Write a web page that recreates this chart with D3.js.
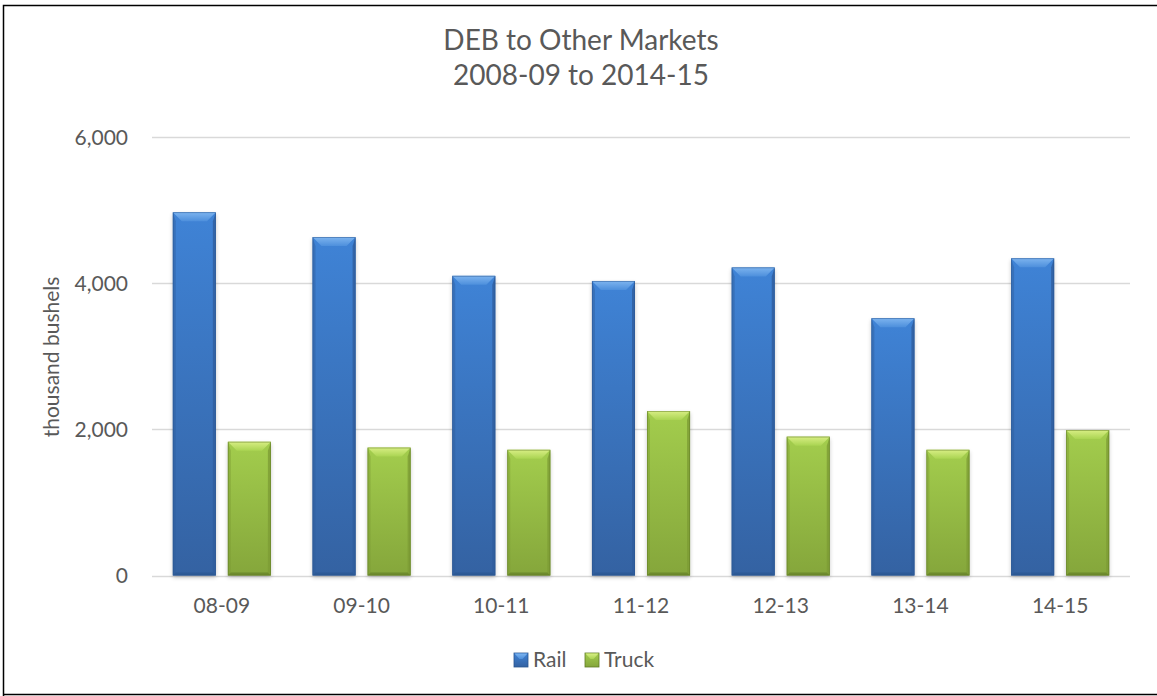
<!DOCTYPE html>
<html>
<head>
<meta charset="utf-8">
<script src="https://cdn.jsdelivr.net/npm/d3@7"></script>
<style>
  html, body { margin: 0; padding: 0; background: #fff; }
  svg { display: block; font-family: Lato, "Open Sans", sans-serif; }
</style>
</head>
<body>
<svg id="chart" width="1157" height="696"></svg>
<script>
const categories = ["08-09", "09-10", "10-11", "11-12", "12-13", "13-14", "14-15"];
const seriesNames = ["Rail", "Truck"];
const railValues = [4970, 4630, 4100, 4030, 4215, 3520, 4340];
const truckValues = [1830, 1750, 1720, 2250, 1900, 1720, 1990];
const yTicks = [0, 2000, 4000, 6000];
const titleLines = ["DEB to Other Markets", "2008-09 to 2014-15"];
const yAxisTitle = "thousand bushels";

const seriesValues = { Rail: railValues, Truck: truckValues };
const palette = {
  Rail:  { top: "#3f83d6", bottom: "#3462a2", bevelA: "#7db4ef", bevelB: "#4d8fdc", side: "#2f5d9c", edge: "#2a5590" },
  Truck: { top: "#a3cd4d", bottom: "#85a63b", bevelA: "#d8ee84", bevelB: "#aad452", side: "#7d9c34", edge: "#5f7a24" }
};

const svg = d3.select("#chart");
const W = 1157, H = 696;
const plot = { left: 152, right: 1130, top: 137, bottom: 575.5 };

// border
svg.append("path")
  .attr("d", `M3.5,${H + 2} L3.5,5.5 L${W + 2},5.5`)
  .attr("fill", "none").attr("stroke", "#000").attr("stroke-width", 1.5);
svg.append("line").attr("x1", 3.5).attr("x2", W + 2).attr("y1", 694.5).attr("y2", 694.5)
  .attr("stroke", "#000").attr("stroke-width", 1.5);

const defs = svg.append("defs");
seriesNames.forEach(s => {
  const g = defs.append("linearGradient").attr("id", "grad-" + s)
    .attr("x1", 0).attr("y1", 0).attr("x2", 0).attr("y2", 1);
  g.append("stop").attr("offset", "0%").attr("stop-color", palette[s].top);
  g.append("stop").attr("offset", "100%").attr("stop-color", palette[s].bottom);
  const b = defs.append("linearGradient").attr("id", "bevel-" + s)
    .attr("x1", 0).attr("y1", 0).attr("x2", 0).attr("y2", 1);
  b.append("stop").attr("offset", "0%").attr("stop-color", palette[s].bevelA);
  b.append("stop").attr("offset", "100%").attr("stop-color", palette[s].bevelB);
});
const blur = defs.append("filter").attr("id", "shadow")
  .attr("x", "-20%").attr("y", "-5%").attr("width", "140%").attr("height", "115%");
blur.append("feGaussianBlur").attr("stdDeviation", 2);

const x0 = d3.scaleBand().domain(categories).range([plot.left, plot.right])
  .paddingInner(0.298).paddingOuter(0.149);
const x1 = d3.scaleBand().domain(seriesNames).range([0, x0.bandwidth()])
  .paddingInner(0.218).paddingOuter(0);
const y = d3.scaleLinear().domain([0, 6000]).range([plot.bottom, plot.top]);

// gridlines
svg.append("g").selectAll("line").data(yTicks).join("line")
  .attr("x1", plot.left).attr("x2", plot.right)
  .attr("y1", d => Math.round(y(d)) + 0.5).attr("y2", d => Math.round(y(d)) + 0.5)
  .attr("stroke", "#d9d9d9").attr("stroke-width", 1.3);

// y axis labels
const yAxis = d3.axisLeft(y).tickValues(yTicks).tickSize(0).tickPadding(0)
  .tickFormat(d3.format(","));
const yg = svg.append("g").attr("transform", `translate(128,0)`).call(yAxis);
yg.select(".domain").remove();
yg.selectAll("text").attr("fill", "#595959").attr("font-size", 21)
  .attr("font-family", "Lato, 'Open Sans', sans-serif").attr("dy", "0.35em");

// x axis labels
const xAxis = d3.axisBottom(x0).tickSize(0).tickPadding(0);
const xg = svg.append("g").attr("transform", `translate(0,${plot.bottom + 30})`).call(xAxis);
xg.select(".domain").remove();
xg.selectAll("text").attr("fill", "#595959").attr("font-size", 21)
  .attr("font-family", "Lato, 'Open Sans', sans-serif").attr("dy", "0.35em");

// bars
const data = [];
categories.forEach((c, i) => seriesNames.forEach(s => data.push({ cat: c, series: s, value: seriesValues[s][i] })));

const bevel = 9;
const sideW = 3;
const barG = svg.append("g");
const bars = barG.selectAll("g.bar").data(data).join("g").attr("class", "bar")
  .attr("transform", d => `translate(${x0(d.cat) + x1(d.series)},${y(d.value)})`);

const bw = x1.bandwidth();
// soft shadow
bars.append("rect")
  .attr("x", 0).attr("y", 2).attr("width", bw).attr("height", d => y(0) - y(d.value))
  .attr("fill", "#000").attr("opacity", 0.22).attr("filter", "url(#shadow)");
// main body
bars.append("rect")
  .attr("x", 0).attr("y", 0).attr("width", bw).attr("height", d => y(0) - y(d.value))
  .attr("fill", d => `url(#grad-${d.series})`);
// left bevel
bars.append("path")
  .attr("d", d => {
    const h = y(0) - y(d.value);
    return `M0,0 L${sideW},${bevel} L${sideW},${h - sideW} L0,${h} Z`;
  })
  .attr("fill", d => palette[d.series].side).attr("opacity", 0.45);
// right bevel
bars.append("path")
  .attr("d", d => {
    const h = y(0) - y(d.value);
    return `M${bw},0 L${bw - sideW},${bevel} L${bw - sideW},${h - sideW} L${bw},${h} Z`;
  })
  .attr("fill", d => palette[d.series].side).attr("opacity", 0.8);
// bottom bevel
bars.append("path")
  .attr("d", d => {
    const h = y(0) - y(d.value);
    return `M0,${h} L${sideW},${h - sideW} L${bw - sideW},${h - sideW} L${bw},${h} Z`;
  })
  .attr("fill", d => palette[d.series].edge).attr("opacity", 0.6);
// top bevel
bars.append("path")
  .attr("d", `M0,0 L${bw},0 L${bw - bevel},${bevel} L${bevel},${bevel} Z`)
  .attr("fill", d => `url(#bevel-${d.series})`);
// outline
bars.append("rect")
  .attr("x", 0.4).attr("y", 0.4).attr("width", bw - 0.8).attr("height", d => y(0) - y(d.value) - 0.8)
  .attr("fill", "none").attr("stroke", d => palette[d.series].edge).attr("stroke-width", 0.8).attr("opacity", 0.6);

// title
svg.append("g").selectAll("text").data(titleLines).join("text")
  .attr("x", 581).attr("y", (d, i) => 50 + i * 35)
  .attr("text-anchor", "middle").attr("fill", "#595959").attr("font-size", 28)
  .text(d => d);

// y axis title
svg.append("text")
  .attr("transform", `translate(52,357) rotate(-90)`)
  .attr("text-anchor", "middle").attr("dy", "0.35em")
  .attr("fill", "#595959").attr("font-size", 21).text(yAxisTitle);

// legend
const legendItems = [{ name: "Rail", x: 514 }, { name: "Truck", x: 585 }];
const lg = svg.append("g").selectAll("g").data(legendItems).join("g")
  .attr("transform", d => `translate(${d.x},653)`);
lg.append("rect").attr("width", 14).attr("height", 14)
  .attr("fill", d => `url(#grad-${d.name})`).attr("stroke", d => palette[d.name].edge).attr("stroke-width", 0.8);
lg.append("path").attr("d", "M0.5,0.5 L13.5,0.5 L8.5,6 L5.5,6 Z").attr("fill", d => `url(#bevel-${d.name})`);
lg.append("text").attr("x", 19).attr("y", 7).attr("dy", "0.35em")
  .attr("fill", "#595959").attr("font-size", 21).text(d => d.name);
</script>
</body>
</html>
